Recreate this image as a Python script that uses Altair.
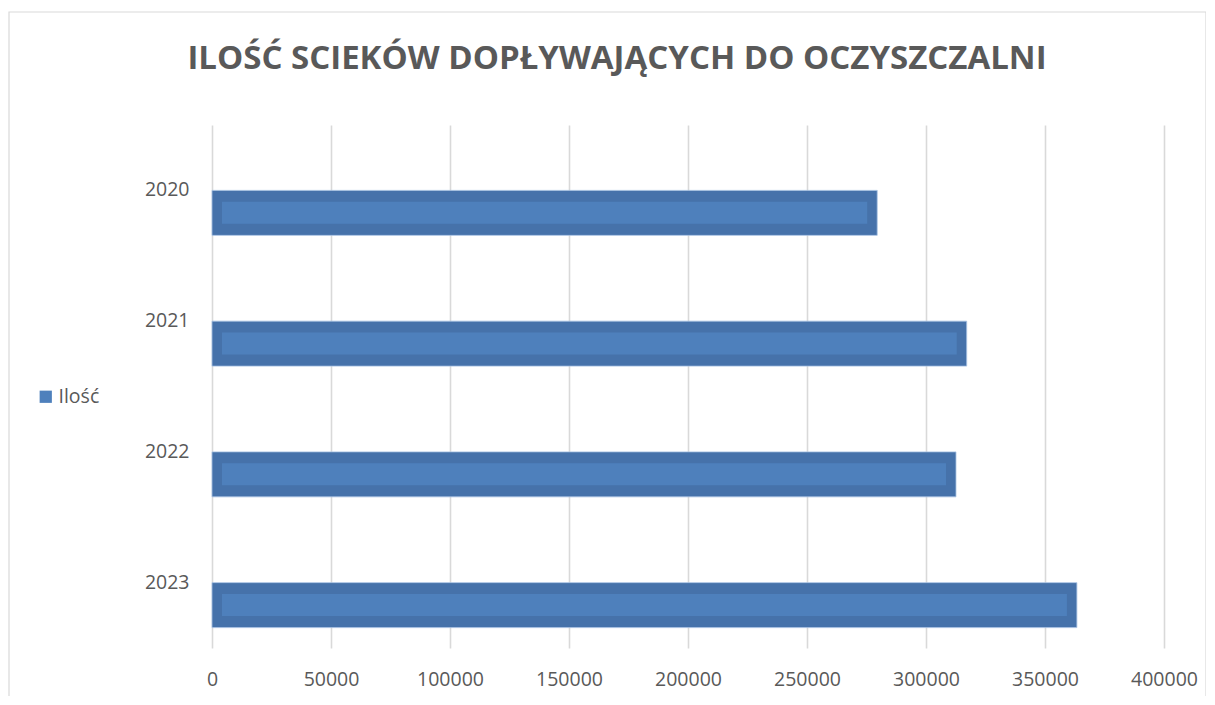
import altair as alt
import pandas as pd

years = ["2020", "2021", "2022", "2023"]
values = [279500, 317100, 312600, 363400]
series_name = "Ilość"
x_ticks = [0, 50000, 100000, 150000, 200000, 250000, 300000, 350000, 400000]
title_text = "ILOŚĆ SCIEKÓW DOPŁYWAJĄCYCH DO OCZYSZCZALNI"

df = pd.DataFrame({"year": years, "value": values, "series": [series_name] * len(years)})

W, H = 952, 523
FONT = "Open Sans"
GRAY = "#595959"

y_enc = alt.Y("year:N", sort=years, title=None,
              scale=alt.Scale(paddingInner=0, paddingOuter=0),
              axis=alt.Axis(domain=False, ticks=False, labelFontSize=19.5, labelColor=GRAY,
                            labelFont=FONT, labelPadding=23, grid=False))
yoff_enc = alt.YOffset("series:N",
                       scale=alt.Scale(domain=[" ", series_name], paddingInner=0, paddingOuter=0.453))
x_enc = alt.X("value:Q", title=None,
              scale=alt.Scale(domain=[0, 400000], nice=False, zero=True),
              axis=alt.Axis(values=x_ticks, domain=False, ticks=False, grid=True,
                            gridColor="#D9D9D9", gridWidth=1.6, labelFontSize=19.5,
                            labelColor=GRAY, labelFont=FONT, labelPadding=22,
                            format="d", labelFlush=False))

base = alt.Chart(df)

outer = base.mark_bar(color="#4672AA", stroke="#A9C3E4", strokeWidth=1, strokeOpacity=0.8).encode(
    y=y_enc, yOffset=yoff_enc, x=x_enc, x2=alt.datum(0)
)

inner = base.mark_bar(height=22, xOffset=-10, x2Offset=10).encode(
    y=y_enc, yOffset=yoff_enc, x=x_enc, x2=alt.datum(0),
    color=alt.Color("series:N", scale=alt.Scale(domain=[series_name], range=["#4E80BC"]),
                    legend=alt.Legend(title=None, orient="none", legendX=-176, legendY=262,
                                      symbolType="square", symbolSize=150, symbolStrokeWidth=0,
                                      labelFontSize=19.5, labelColor=GRAY, labelFont=FONT,
                                      labelOffset=3))
)

border = alt.Chart(pd.DataFrame({"k": [0]})).mark_rect(
    fill=None, stroke="#D9D9D9", strokeWidth=1.2
).encode(x=alt.value(-203), x2=alt.value(994), y=alt.value(-113), y2=alt.value(600))

chart = alt.layer(border, outer, inner).properties(
    width=W, height=H,
    title=alt.TitleParams(title_text, font=FONT, fontSize=33, fontWeight="bold", color=GRAY,
                          anchor="middle", dx=-71, offset=-65),
    autosize=alt.AutoSizeParams(type="none"),
    padding={"left": 204, "top": 117, "right": 42, "bottom": 48},
).configure_view(stroke=None)

chart.save("out.html", embed_options={"renderer": "svg", "actions": False})
